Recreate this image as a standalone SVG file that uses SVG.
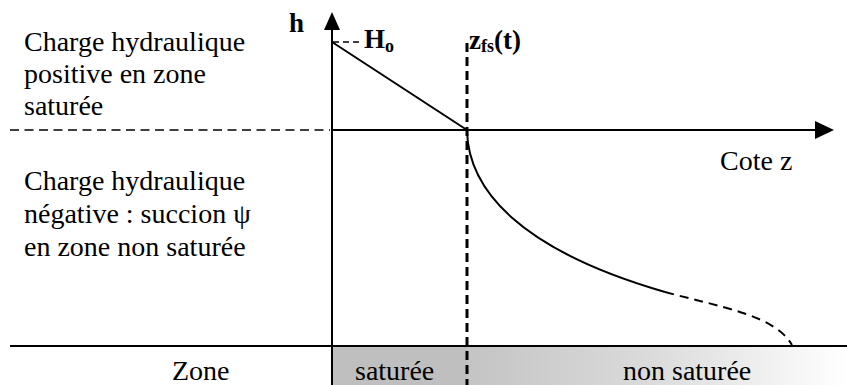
<svg xmlns="http://www.w3.org/2000/svg" width="847" height="385" viewBox="0 0 847 385">
<defs>
<linearGradient id="grad" x1="467" y1="0" x2="847" y2="0" gradientUnits="userSpaceOnUse">
<stop offset="0" stop-color="#c4c4c4"/>
<stop offset="0.5" stop-color="#dcdcdc"/>
<stop offset="1" stop-color="#ffffff"/>
</linearGradient>
</defs>
<rect width="847" height="385" fill="#fff"/>
<g id="band">
<rect x="333" y="347" width="134" height="38" fill="#bfbfbf"/>
<rect x="467" y="347" width="380" height="38" fill="url(#grad)"/>
</g>
<g id="connectors" stroke="#000" stroke-width="2" fill="none">
<line x1="10" y1="346" x2="847" y2="346"/>
<line x1="332" y1="28" x2="332" y2="385"/>
<polygon points="332,12 324,30 340,30" fill="#000" stroke="none"/>
<line x1="10" y1="130" x2="330" y2="130" stroke-width="1.5" stroke-dasharray="9,5.5"/>
<line x1="332" y1="130" x2="818" y2="130"/>
<polygon points="834,130 815,121 815,139" fill="#000" stroke="none"/>
<line x1="333" y1="42" x2="363" y2="42" stroke-width="1.5" stroke-dasharray="6,4"/>
<line x1="332" y1="42" x2="467" y2="130"/>
<line x1="467" y1="43" x2="467" y2="385" stroke-width="3" stroke-dasharray="9,5"/>
<path d="M467,130 C468,190 520,250 665,292"/>
<path d="M665,292 C720,307 775,315 792,345" stroke-dasharray="9,6"/>
</g>
<g id="labels" fill="#000" font-family="Liberation Serif, Times New Roman, serif" font-size="28">
<text x="24" y="51">Charge hydraulique</text>
<text x="24" y="83">positive en zone</text>
<text x="24" y="115">satur&#233;e</text>
<text x="24" y="190">Charge hydraulique</text>
<text x="24" y="223">n&#233;gative : succion &#968;</text>
<text x="24" y="256">en zone non satur&#233;e</text>
<text x="720" y="170">Cote z</text>
<text x="172" y="380">Zone</text>
<text x="355" y="380">satur&#233;e</text>
<text x="623" y="380">non satur&#233;e</text>
<text x="289" y="32" font-size="27" font-weight="bold">h</text>
<text x="364" y="48" font-size="27" font-weight="bold">H<tspan font-size="18" dy="4">o</tspan></text>
<text x="469" y="49" font-size="27" font-weight="bold">z<tspan font-size="18" dy="3">fs</tspan><tspan dy="-3">(t)</tspan></text>
</g>
</svg>
